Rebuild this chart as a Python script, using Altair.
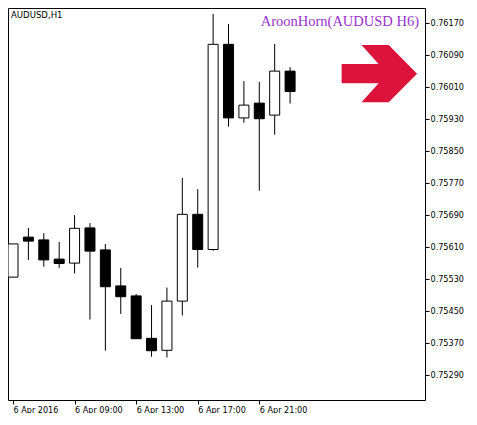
import altair as alt
import pandas as pd

# ---- data (AUDUSD H1, 6 Apr 2016, bars 05:00..23:00)
bar_index = list(range(19))
opens  = [0.75534, 0.75634, 0.75627, 0.75579, 0.75569, 0.75657, 0.75602, 0.75512, 0.75487, 0.75381,
          0.75351, 0.75474, 0.75691, 0.75603, 0.76116, 0.75932, 0.75969, 0.75939, 0.76049]
highs  = [0.75617, 0.75657, 0.75644, 0.75622, 0.75689, 0.75669, 0.75617, 0.75557, 0.75492, 0.75464,
          0.75508, 0.75782, 0.75754, 0.76192, 0.76167, 0.76024, 0.76022, 0.76117, 0.76059]
lows   = [0.75534, 0.75577, 0.75560, 0.75557, 0.75543, 0.75428, 0.75350, 0.75442, 0.75380, 0.75335,
          0.75333, 0.75438, 0.75558, 0.75600, 0.75910, 0.75920, 0.75750, 0.75890, 0.75968]
closes = [0.75617, 0.75624, 0.75577, 0.75568, 0.75656, 0.75599, 0.75510, 0.75485, 0.75380, 0.75350,
          0.75474, 0.75691, 0.75603, 0.76116, 0.75932, 0.75964, 0.75930, 0.76049, 0.75998]

x_tick_pos = [0, 4, 8, 12, 16]
x_tick_labels = ["6 Apr 2016", "6 Apr 09:00", "6 Apr 13:00", "6 Apr 17:00", "6 Apr 21:00"]
y_tick_values = [0.75290, 0.75370, 0.75450, 0.75530, 0.75610, 0.75690,
                 0.75770, 0.75850, 0.75930, 0.76010, 0.76090, 0.76170]

symbol_title = ["AUDUSD,H1"]
indicator_title = ["AroonHorn(AUDUSD H6)"]
arrow_x = [23.8]
arrow_y = [0.760425]

x_domain = [0, 26.44]
y_domain = [0.752268, 0.762068]

df = pd.DataFrame({"i": bar_index, "open": opens, "high": highs, "low": lows, "close": closes})

label_expr = "''"
for p, l in reversed(list(zip(x_tick_pos, x_tick_labels))):
    label_expr = f"datum.value == {p} ? '{l}' : ({label_expr})"

FONT = "DejaVu Sans Condensed, DejaVu Sans"

x_scale = alt.Scale(domain=x_domain, nice=False, zero=False)
x_axis = alt.Axis(values=x_tick_pos, labelExpr=label_expr, orient="bottom",
                  title=None, grid=False, domain=False, tickSize=4,
                  tickColor="black", labelColor="black", labelFont=FONT,
                  labelFontSize=9, labelAlign="left", labelBaseline="top",
                  labelPadding=1, labelOverlap=False, labelFlush=False)
y_scale = alt.Scale(domain=y_domain, nice=False, zero=False)
y_axis = alt.Axis(values=y_tick_values, format=".5f", orient="right", title=None,
                  grid=False, domain=False, tickSize=4, tickColor="black",
                  labelColor="black", labelFont=FONT, labelFontSize=9, labelPadding=1,
                  labelOverlap=False, labelFlush=False)

base = alt.Chart(df)

wicks = base.mark_rule(color="black", strokeWidth=1, clip=True).encode(
    x=alt.X("i:Q", scale=x_scale, axis=x_axis),
    y=alt.Y("low:Q", scale=y_scale, axis=y_axis),
    y2="high:Q",
)

bodies = base.mark_bar(size=10, stroke="black", strokeWidth=1, clip=True).encode(
    x=alt.X("i:Q", scale=x_scale, axis=x_axis),
    y=alt.Y("open:Q", scale=y_scale, axis=y_axis),
    y2="close:Q",
    fill=alt.condition("datum.open > datum.close", alt.value("black"), alt.value("white")),
)

arrow_path = ("M -1 -0.256 L -0.02 -0.256 L -0.473 -0.758 L 0.248 -0.758 L 1 0 "
              "L 0.248 0.758 L -0.473 0.758 L -0.02 0.254 L -1 0.254 Z")
arrow = alt.Chart(pd.DataFrame({"ax": arrow_x, "ay": arrow_y})).mark_point(
    shape=arrow_path, filled=True, fill="#DC143C", opacity=1, size=5700, strokeWidth=0
).encode(x=alt.X("ax:Q", scale=x_scale, axis=x_axis),
         y=alt.Y("ay:Q", scale=y_scale, axis=y_axis))

t1 = alt.Chart(pd.DataFrame({"t": symbol_title})).mark_text(
    align="left", baseline="alphabetic", font=FONT, fontSize=9.5, color="black"
).encode(text="t:N", x=alt.value(3), y=alt.value(10))

t2 = alt.Chart(pd.DataFrame({"t": indicator_title})).mark_text(
    align="right", baseline="alphabetic", font="Liberation Serif", fontSize=14.5, color="#9932CC"
).encode(text="t:N", x=alt.value(411), y=alt.value(18))

chart = alt.layer(wicks, bodies, arrow, t1, t2).properties(
    width=417, height=392,
    padding={"left": 0, "top": 0, "right": 42, "bottom": 13},
    autosize=alt.AutoSizeParams(type="none"),
    background="white"
).configure_view(stroke="black", strokeWidth=1).configure_axis(labelOverlap=False)

chart.save("out.html", embed_options={"renderer": "svg", "actions": False})
